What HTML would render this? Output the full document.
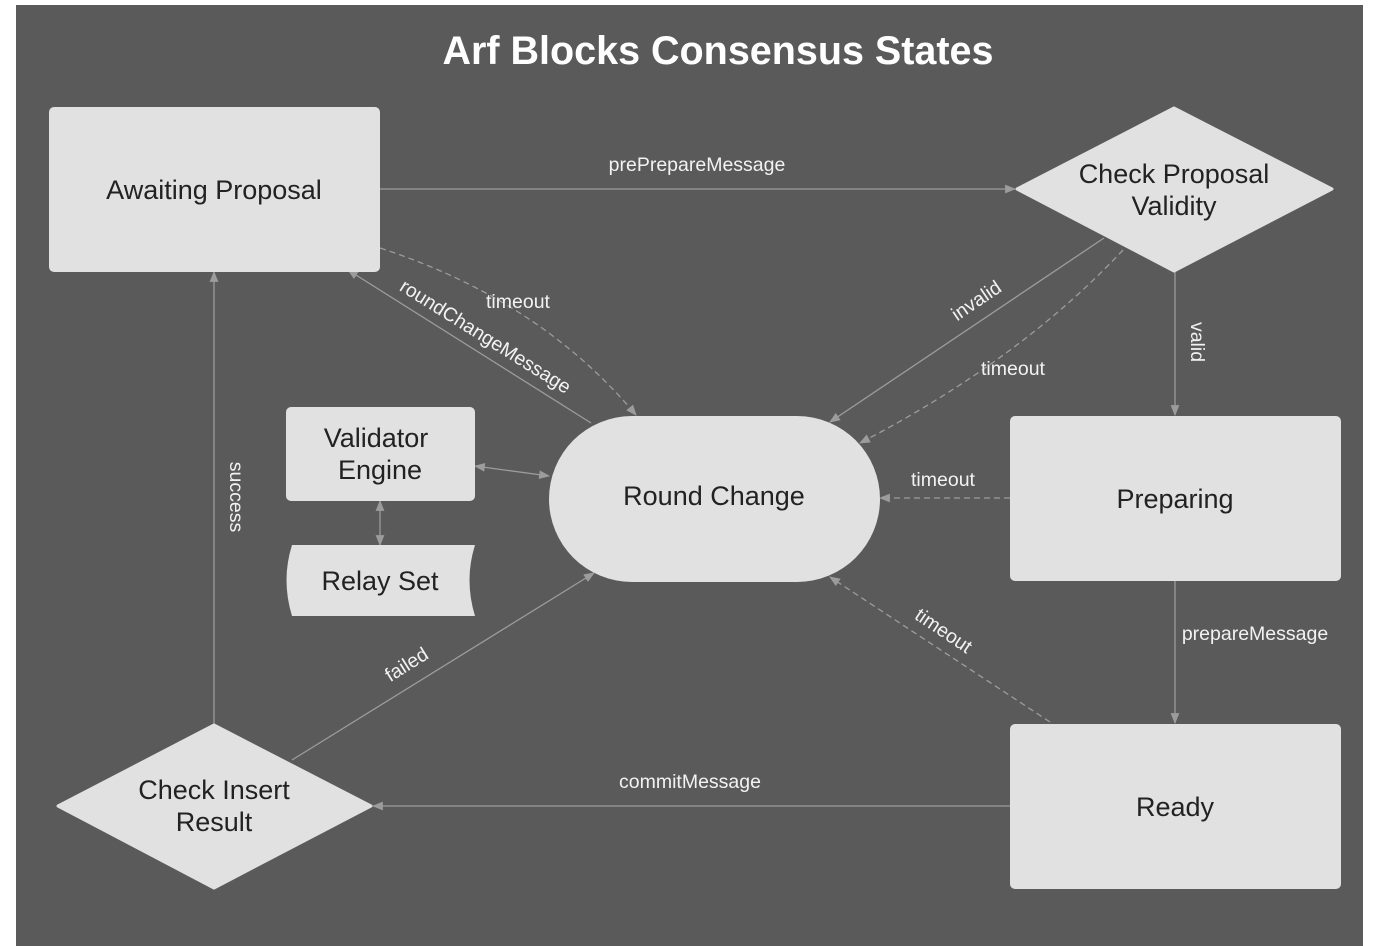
<!DOCTYPE html>
<html><head><meta charset="utf-8"><style>
html,body{margin:0;padding:0;background:#fff;}
svg{display:block;}
text{font-family:"Liberation Sans",sans-serif;}
.n{fill:#e1e1e1;}
.t{fill:#222;font-size:27px;text-anchor:middle;}
.l{fill:#f2f2f2;font-size:19.5px;text-anchor:middle;}
.e{stroke:#9c9c9c;stroke-width:1.3;fill:none;}
.d{stroke-dasharray:6 4;}
</style></head><body>
<svg width="1379" height="946" viewBox="0 0 1379 946" xmlns="http://www.w3.org/2000/svg">
<defs>
<marker id="a" viewBox="0 0 10 10" refX="9" refY="5" markerWidth="11" markerHeight="11" orient="auto-start-reverse" markerUnits="userSpaceOnUse"><path d="M0,1 L10,5 L0,9 z" fill="#9c9c9c"/></marker>
</defs>
<rect x="16" y="5" width="1347" height="941" fill="#5a5a5a"/>
<text x="718" y="64" fill="#fff" font-size="39.5" font-weight="bold" text-anchor="middle">Arf Blocks Consensus States</text>

<line class="e" x1="380" y1="189" x2="1015" y2="189" marker-end="url(#a)"/>
<text class="l" x="697" y="171">prePrepareMessage</text>
<line class="e" x1="1175" y1="272" x2="1175" y2="415" marker-end="url(#a)"/>
<text class="l" transform="translate(1191,342) rotate(90)">valid</text>
<line class="e" x1="1175" y1="581" x2="1175" y2="723" marker-end="url(#a)"/>
<text class="l" x="1255" y="640">prepareMessage</text>
<line class="e" x1="1010" y1="806" x2="373" y2="806" marker-end="url(#a)"/>
<text class="l" x="690" y="788">commitMessage</text>
<line class="e" x1="214" y1="724" x2="214" y2="272" marker-end="url(#a)"/>
<text class="l" transform="translate(230,497) rotate(90)">success</text>
<line class="e" x1="292" y1="760" x2="594" y2="573" marker-end="url(#a)"/>
<text class="l" transform="translate(410,670) rotate(-32)">failed</text>
<line class="e" x1="1104" y1="238" x2="830" y2="422" marker-end="url(#a)"/>
<text class="l" transform="translate(980,306) rotate(-34)">invalid</text>
<path class="e d" d="M1123,250 Q1020,360 860,443" marker-end="url(#a)"/>
<text class="l" x="1013" y="375">timeout</text>
<line class="e d" x1="1010" y1="498" x2="880" y2="498" marker-end="url(#a)"/>
<text class="l" x="943" y="486">timeout</text>
<line class="e d" x1="1050" y1="722" x2="830" y2="577" marker-end="url(#a)"/>
<text class="l" transform="translate(940,636) rotate(34)">timeout</text>
<line class="e" x1="591" y1="423" x2="348" y2="270" marker-end="url(#a)"/>
<text class="l" transform="translate(482,342) rotate(32)">roundChangeMessage</text>
<path class="e d" d="M380,248 Q540,300 636,415" marker-end="url(#a)"/>
<text class="l" x="518" y="308">timeout</text>
<line class="e" x1="475" y1="466" x2="549" y2="476" marker-start="url(#a)" marker-end="url(#a)"/>
<line class="e" x1="380" y1="501" x2="380" y2="545" marker-start="url(#a)" marker-end="url(#a)"/>

<rect class="n" x="49" y="107" width="331" height="165" rx="5"/>
<text class="t" x="214" y="199">Awaiting Proposal</text>
<path class="n" d="M1174,108 L1332,189 L1174,271 L1017,189 Z" stroke="#e1e1e1" stroke-width="3" stroke-linejoin="round"/>
<text class="t" x="1174" y="183">Check Proposal</text>
<text class="t" x="1174" y="215">Validity</text>
<rect class="n" x="286" y="407" width="189" height="94" rx="5"/>
<text class="t" x="376" y="447">Validator</text>
<text class="t" x="380" y="479">Engine</text>
<path class="n" d="M292,545 L475,545 Q464,580 475,616 L292,616 Q281,580 292,545 Z"/>
<text class="t" x="380" y="590">Relay Set</text>
<rect class="n" x="549" y="416" width="331" height="166" rx="83"/>
<text class="t" x="714" y="505">Round Change</text>
<rect class="n" x="1010" y="416" width="331" height="165" rx="5"/>
<text class="t" x="1175" y="508">Preparing</text>
<rect class="n" x="1010" y="724" width="331" height="165" rx="5"/>
<text class="t" x="1175" y="816">Ready</text>
<path class="n" d="M214,725 L371,806 L214,888 L58,806 Z" stroke="#e1e1e1" stroke-width="3" stroke-linejoin="round"/>
<text class="t" x="214" y="799">Check Insert</text>
<text class="t" x="214" y="831">Result</text>
</svg>
</body></html>
